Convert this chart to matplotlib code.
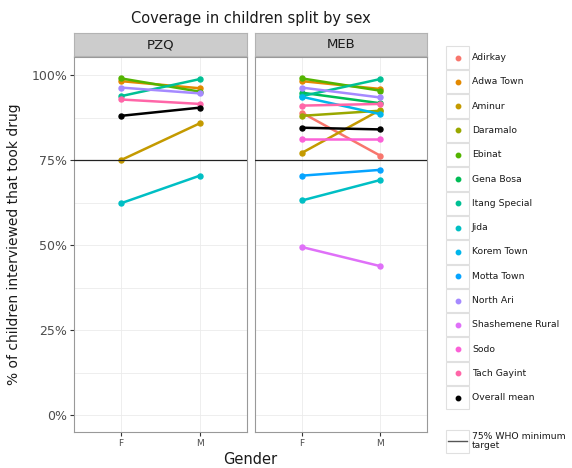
import numpy as np
import matplotlib
matplotlib.use("Agg")
import matplotlib.pyplot as plt
from matplotlib.patches import Rectangle
from matplotlib.ticker import FuncFormatter

nan = np.nan

# districts (legend order) and their ggplot hue colours
SITES = ["Adirkay", "Adwa Town", "Aminur", "Daramalo", "Ebinat", "Gena Bosa",
         "Itang Special", "Jida", "Korem Town", "Motta Town", "North Ari",
         "Shashemene Rural", "Sodo", "Tach Gayint"]
COLORS = ["#F8766D", "#E38900", "#C49A00", "#99A800", "#53B400", "#00BC56",
          "#00C094", "#00BFC4", "#00B6EB", "#06A4FF", "#A58AFF", "#DF70F8",
          "#FB61D7", "#FF66A8"]

GENDERS = ["F", "M"]
DRUGS = ["PZQ", "MEB"]

# coverage (%) per site, female / male
pzq_f = [nan, 98.2, 75.0, nan, 99.0, nan, 93.8, 62.3, nan, nan, 96.3, nan, nan, 92.8]
pzq_m = [nan, 96.1, 85.8, nan, 95.1, nan, 98.8, 70.4, nan, nan, 94.6, nan, nan, 91.5]
meb_f = [88.9, 98.2, 77.1, 88.0, 99.0, 94.8, 93.8, 63.1, 93.6, 70.4, 96.3, 49.4, 81.2, 91.0]
meb_m = [76.3, 95.9, 89.7, 89.5, 95.4, 91.7, 98.8, 69.1, 88.5, 72.1, 93.4, 43.8, 81.2, 91.5]

# overall mean per drug, female / male
mean_f = [88.0, 84.5]
mean_m = [90.4, 84.0]

TARGET = 75

W, H = 572, 468
fig = plt.figure(figsize=(W / 100, H / 100), dpi=100)

def fbox(x0, y0, x1, y1):
    # pixel box (top-left origin) -> figure fraction rect
    return [x0 / W, 1 - y1 / H, (x1 - x0) / W, (y1 - y0) / H]

data = {"PZQ": (pzq_f, pzq_m), "MEB": (meb_f, meb_m)}
panel_x = [(74, 247), (255, 427)]
grid_col = "#EBEBEB"

for k, drug in enumerate(DRUGS):
    x0, x1 = panel_x[k]
    ax = fig.add_axes(fbox(x0, 57, x1, 432))
    f_vals, m_vals = data[drug]
    xs = np.arange(len(GENDERS))
    for i, site in enumerate(SITES):
        ys = np.array([f_vals[i], m_vals[i]]) / 100
        if np.all(np.isnan(ys)):
            continue
        ax.plot(xs, ys, color=COLORS[i], lw=1.8, marker="o", ms=3.6,
                solid_capstyle="butt", zorder=3)
    ax.plot(xs, np.array([mean_f[k], mean_m[k]]) / 100, color="black", lw=1.8,
            marker="o", ms=3.6, zorder=4)
    ax.axhline(TARGET / 100, color="#222222", lw=0.9, zorder=5)

    ax.set_xlim(-0.6, 1.6)
    ax.set_ylim(-0.05, 1.053)
    ax.set_xticks(xs)
    ax.set_xticklabels(GENDERS, fontsize=6.5, color="#4D4D4D")
    ax.set_yticks(np.arange(0, 1.01, 0.25))
    ax.set_yticks(np.arange(0.125, 1.0, 0.25), minor=True)
    ax.yaxis.set_major_formatter(FuncFormatter(lambda v, p: f"{v * 100:.0f}%"))
    ax.tick_params(axis="y", which="minor", length=0)
    ax.tick_params(axis="both", which="major", length=3, width=0.8,
                   color="#333333", labelsize=9, labelcolor="#4D4D4D", pad=2)
    ax.tick_params(axis="x", labelsize=6.5)
    ax.grid(True, which="both", color=grid_col, lw=0.6, zorder=0)
    ax.set_axisbelow(True)
    for sp in ax.spines.values():
        sp.set_color("#999999")
        sp.set_linewidth(0.8)
    if k == 1:
        ax.tick_params(axis="y", labelleft=False, length=0)
    else:
        ax.set_ylabel("% of children interviewed that took drug", fontsize=10,
                      color="#1A1A1A", labelpad=7)

    # facet strip
    sax = fig.add_axes(fbox(x0, 33, x1, 56))
    sax.set_xticks([])
    sax.set_yticks([])
    sax.set_facecolor("#CCCCCC")
    for sp in sax.spines.values():
        sp.set_color("#B3B3B3")
        sp.set_linewidth(0.8)
    sax.text(0.5, 0.5, drug, ha="center", va="center", fontsize=9.5,
             color="#1A1A1A", transform=sax.transAxes)

fig.text((74 + 427) / 2 / W, 1 - 18 / H, "Coverage in children split by sex",
         ha="center", va="center", fontsize=10.5, color="#1A1A1A")
fig.text((74 + 427) / 2 / W, 1 - 459 / H, "Gender", ha="center", va="center",
         fontsize=10.5, color="#1A1A1A")

# legend drawn by hand: a bordered key per entry
lax = fig.add_axes([0, 0, 1, 1])
lax.set_xlim(0, W)
lax.set_ylim(H, 0)
lax.axis("off")

labels = SITES + ["Overall mean"]
cols = COLORS + ["black"]
step = 24.3
for j, (lab, col) in enumerate(zip(labels, cols)):
    yc = 57.5 + j * step
    lax.add_patch(Rectangle((446, yc - step / 2 + 0.5), 23, step - 1,
                            fc="white", ec="#E0E0E0", lw=0.8))
    lax.plot(457.5, yc, "o", color=col, ms=3.2)
    lax.text(472, yc, lab, va="center", ha="left", fontsize=6.7, color="#1A1A1A")

yc = 441
lax.add_patch(Rectangle((446, yc - 11.5), 23, 23, fc="white", ec="#E0E0E0", lw=0.8))
lax.plot([448, 467], [yc, yc], color="#555555", lw=1.0)
lax.text(472, yc, "75% WHO minimum\ntarget", va="center", ha="left",
         fontsize=6.7, color="#1A1A1A", linespacing=1.0)

fig.savefig("out.png", dpi=100)
